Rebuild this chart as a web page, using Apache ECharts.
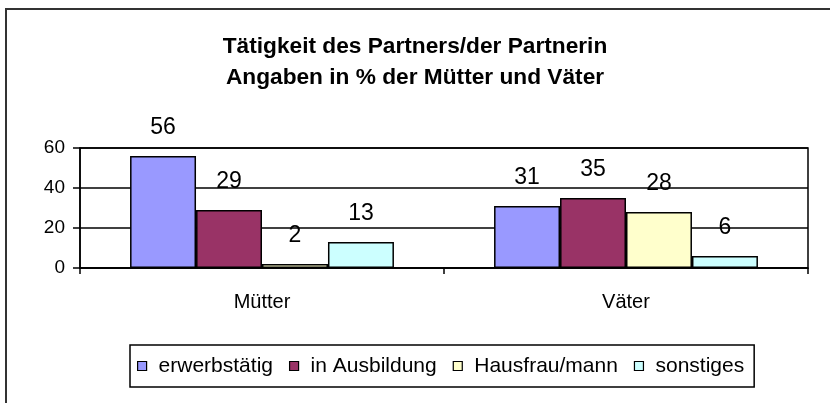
<!DOCTYPE html>
<html>
<head>
<meta charset="utf-8">
<script src="https://cdn.jsdelivr.net/npm/echarts@6/dist/echarts.min.js"></script>
<style>
  html, body { margin: 0; padding: 0; background: #fff; }
  #chart { width: 830px; height: 403px; }
</style>
</head>
<body>
<div id="chart"></div>
<script>
// Werte
const categories = ['Mütter', 'Väter']
const seriesNames = ['erwerbstätig', 'in Ausbildung', 'Hausfrau/mann', 'sonstiges']
const erwerbstaetig = [56, 31]
const inAusbildung = [29, 35]
const hausfrau = [2, 28]
const sonstiges = [13, 6]
const yTicks = [0, 20, 40, 60]

const colors = ['#9999FF', '#993366', '#FFFFCC', '#CCFFFF']
const values = [erwerbstaetig, inAusbildung, hausfrau, sonstiges]
const font = '"Liberation Sans", Arial, sans-serif'

const chart = echarts.init(document.getElementById('chart'))

chart.setOption({
  animation: false,
  backgroundColor: '#fff',
  textStyle: {fontFamily: font, color: '#000'},
  title: {
    text: 'Tätigkeit des Partners/der Partnerin\nAngaben in % der Mütter und Väter',
    left: 'center',
    top: 31,
    padding: [0, 0, 0, 18],  // leicht nach rechts wie im Original
    textStyle: {fontFamily: font, fontSize: 22.7, fontWeight: 'bold', lineHeight: 31, color: '#000'},
  },
  grid: {
    left: 80,
    right: 22,
    top: 148,
    bottom: 135,
    show: true,
    borderColor: '#000',
    borderWidth: 1.5,
  },
  legend: {
    data: seriesNames,
    left: 130,
    top: 345,
    orient: 'horizontal',
    icon: 'rect',
    itemWidth: 9,
    itemHeight: 9,
    itemGap: 16,
    padding: [9, 10, 9, 7],
    borderColor: '#000',
    borderWidth: 1.5,
    itemStyle: {borderColor: '#000', borderWidth: 1.2},
    textStyle: {fontFamily: font, fontSize: 21, lineHeight: 24, color: '#000', padding: [0, 0, 0, 7]},
  },
  xAxis: {
    type: 'category',
    data: categories,
    boundaryGap: true,
    axisLine: {lineStyle: {color: '#000', width: 1.5}},
    axisTick: {show: true, alignWithLabel: false, length: 6, lineStyle: {color: '#000', width: 1.5}},
    axisLabel: {fontFamily: font, fontSize: 20, color: '#000', margin: 24},
  },
  yAxis: {
    type: 'value',
    min: yTicks[0],
    max: yTicks[yTicks.length - 1],
    interval: 20,
    axisLine: {show: true, lineStyle: {color: '#000', width: 1.5}},
    axisTick: {show: true, length: 7, lineStyle: {color: '#000', width: 1.5}},
    axisLabel: {fontFamily: font, fontSize: 19, color: '#000', margin: 15},
    splitLine: {lineStyle: {color: '#000', width: 1.5}},
  },
  series: seriesNames.map((name, i) => ({
    name: name,
    type: 'bar',
    data: values[i],
    barGap: 0,
    barCategoryGap: '27.5%',
    itemStyle: {color: colors[i], borderColor: '#000', borderWidth: 1.5},
    label: {
      show: true,
      position: 'top',
      distance: 16,
      fontFamily: font,
      fontSize: 23,
      lineHeight: 24,
      color: '#000',
    },
  })),
  graphic: [
    {
      type: 'rect',
      shape: {x: 6, y: 9, width: 840, height: 420},
      style: {fill: 'none', stroke: '#333', lineWidth: 2},
      silent: true,
      z: 100,
    },
  ],
})
window.addEventListener('resize', () => chart.resize())
</script>
</body>
</html>
